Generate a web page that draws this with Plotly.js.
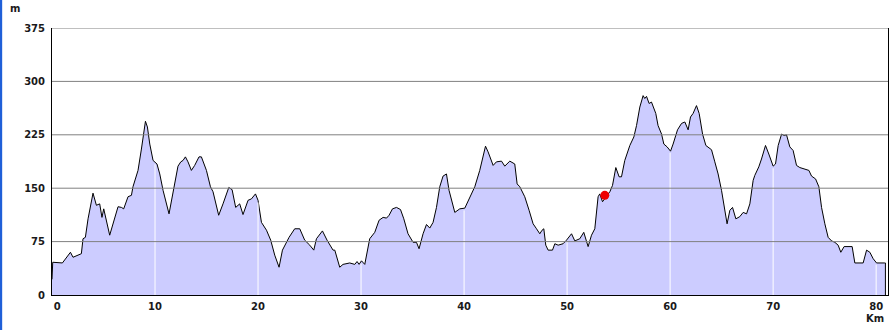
<!DOCTYPE html>
<html>
<head>
<meta charset="utf-8">
<script src="https://cdn.plot.ly/plotly-3.0.1.min.js"></script>
<style>html,body{margin:0;padding:0;background:#fff;}#chart{width:892px;height:330px;}</style>
</head>
<body>
<div id="chart"></div>
<script>
// distance along route (km)
const distanceKm = [0,0.07,1.01,1.79,2.04,2.52,2.85,3.01,3.24,3.50,3.98,4.31,4.63,4.85,5.02,5.60,5.92,6.41,6.74,6.96,7.38,7.71,7.86,8.35,8.68,9.07,9.26,9.49,9.81,10.19,10.46,10.78,11.36,11.82,12.23,12.50,12.72,12.95,13.20,13.53,13.85,14.27,14.50,14.99,15.38,15.63,16.18,16.60,17.16,17.48,17.83,18.22,18.54,19.03,19.36,19.75,20.00,20.33,20.82,21.23,21.62,22.04,22.37,23.01,23.56,24.05,24.53,25.02,25.41,25.67,26.25,26.70,27.28,27.45,27.93,28.25,28.90,29.39,29.61,29.81,30.04,30.36,30.84,31.33,31.75,32.14,32.47,32.72,33.05,33.44,33.83,34.15,34.56,35.05,35.38,35.63,36.02,36.35,36.67,36.99,37.32,37.64,37.96,38.29,38.54,39.10,39.58,40.07,40.55,41.04,41.52,42.08,42.33,42.82,43.14,43.63,43.95,44.44,44.92,45.15,45.41,45.89,46.31,46.70,47.03,47.35,47.57,47.74,47.93,48.16,48.58,48.81,49.13,49.61,49.94,50.43,50.75,51.23,51.62,52.04,52.37,52.69,53.01,53.17,53.44,53.76,54.15,54.41,54.63,54.73,55.05,55.28,55.60,56.09,56.48,56.74,57.06,57.38,57.54,57.71,57.96,58.19,58.61,58.83,59.17,59.39,59.71,60.04,60.29,60.72,61.11,61.43,61.75,61.98,62.23,62.56,62.82,63.15,63.47,64.02,64.34,64.66,64.99,65.31,65.53,65.80,66.06,66.38,66.76,67.09,67.42,67.74,68.06,68.22,68.61,68.87,69.26,69.58,70.00,70.23,70.49,70.82,71.07,71.30,71.62,71.94,72.27,72.59,73.01,73.47,73.73,74.12,74.44,74.70,75.02,75.34,75.67,75.99,76.31,76.57,76.89,77.67,77.93,78.74,79.07,79.39,79.71,80.04,80.84,80.90,80.90];
// elevation (m)
const elevationM = [22,46,45,60,53,56,58,79,81,107,143,126,128,109,121,84,100,124,123,121,138,140,152,175,205,244,236,212,189,184,170,147,114,149,181,187,189,194,187,175,182,194,194,175,152,145,112,128,151,148,123,128,113,133,135,142,133,102,91,77,56,39,63,81,93,93,77,70,63,79,90,77,63,63,39,43,45,43,47,43,48,43,79,88,105,109,108,112,121,123,120,107,86,74,74,65,86,99,94,102,123,152,167,170,147,116,121,122,138,152,175,209,201,182,187,188,181,188,184,156,152,138,119,100,93,86,91,93,70,63,63,72,70,72,77,86,76,79,88,68,84,93,138,142,131,137,145,154,170,179,166,166,189,210,222,238,264,280,276,279,269,271,255,238,226,212,208,202,212,232,241,243,232,250,255,266,255,226,210,204,187,170,147,121,100,119,123,107,110,116,114,128,161,168,180,191,210,198,181,184,210,226,224,225,208,203,182,179,177,175,167,163,152,123,100,81,76,74,70,60,68,68,45,45,63,60,51,45,45,45,0];
// current position marker
const markerKm = [53.66];
const markerM = [140];
// tick labels
const yTicks = [0,75,150,225,300,375];
const xTicks = [0,10,20,30,40,50,60,70,80];
const xTickText = ['\u00a0\u00a0\u00a00','10','20','30','40','50','60','70','80'];

function interp(x){
  for(let i=1;i<distanceKm.length;i++){
    if(distanceKm[i]>=x){
      const x0=distanceKm[i-1],x1=distanceKm[i];
      const t=(x1===x0)?0:(x-x0)/(x1-x0);
      return elevationM[i-1]+t*(elevationM[i]-elevationM[i-1]);
    }
  }
  return 0;
}

const shapes = [];
xTicks.slice(1).forEach(v=>{
  shapes.push({type:'line',xref:'x',yref:'y',x0:v,x1:v,y0:0,y1:Math.max(0,interp(v)-3),
    line:{color:'#ffffff',width:1},layer:'above'});
});
yTicks.slice(1).forEach(v=>{
  shapes.push({type:'line',xref:'paper',yref:'y',x0:0,x1:1,y0:v,y1:v,
    line:{color:'#808080',width:1},layer:'above'});
});
// window edge bar on the left
shapes.push({type:'rect',xref:'paper',yref:'paper',x0:-0.0626,x1:-0.0596,y0:-0.15,y1:1.12,
  line:{width:0},fillcolor:'#1f5fd8',layer:'above'});

const tickFont = {family:'DejaVu Sans, Verdana, sans-serif',size:10,color:'#1a1a1a',weight:'bold'};

const data = [
  {x:distanceKm,y:elevationM,type:'scatter',mode:'lines',fill:'tozeroy',
   fillcolor:'#ccccff',line:{color:'rgba(0,0,0,0)',width:0},hoverinfo:'skip',showlegend:false},
  {x:distanceKm,y:elevationM,type:'scatter',mode:'lines',
   line:{color:'#000000',width:1},showlegend:false},
  {x:markerKm,y:markerM,type:'scatter',mode:'markers',
   marker:{color:'#ee0000',size:9},showlegend:false}
];

const layout = {
  width:892,height:330,
  margin:{l:52,r:4,t:28,b:35},
  paper_bgcolor:'#ffffff',plot_bgcolor:'#ffffff',
  showlegend:false,
  xaxis:{range:[0,81.15],tickvals:xTicks,ticktext:xTickText,showgrid:false,zeroline:false,
    showline:true,linecolor:'#000000',linewidth:1,ticks:'',tickfont:tickFont,ticklabelstandoff:2,fixedrange:true},
  yaxis:{range:[0,375],tickvals:yTicks,showgrid:false,zeroline:false,
    showline:true,mirror:true,linecolor:'#000000',linewidth:1,ticks:'',tickfont:tickFont,ticklabelstandoff:4,fixedrange:true},
  shapes:shapes,
  annotations:[
    {text:'m',xref:'paper',yref:'paper',x:-0.0445,y:1.073,xanchor:'center',yanchor:'middle',showarrow:false,font:tickFont},
    {text:'Km',xref:'paper',yref:'paper',x:0.9848,y:-0.0885,xanchor:'center',yanchor:'middle',showarrow:false,font:tickFont}
  ]
};

Plotly.newPlot('chart',data,layout,{displayModeBar:false,staticPlot:true});
</script>
</body>
</html>
